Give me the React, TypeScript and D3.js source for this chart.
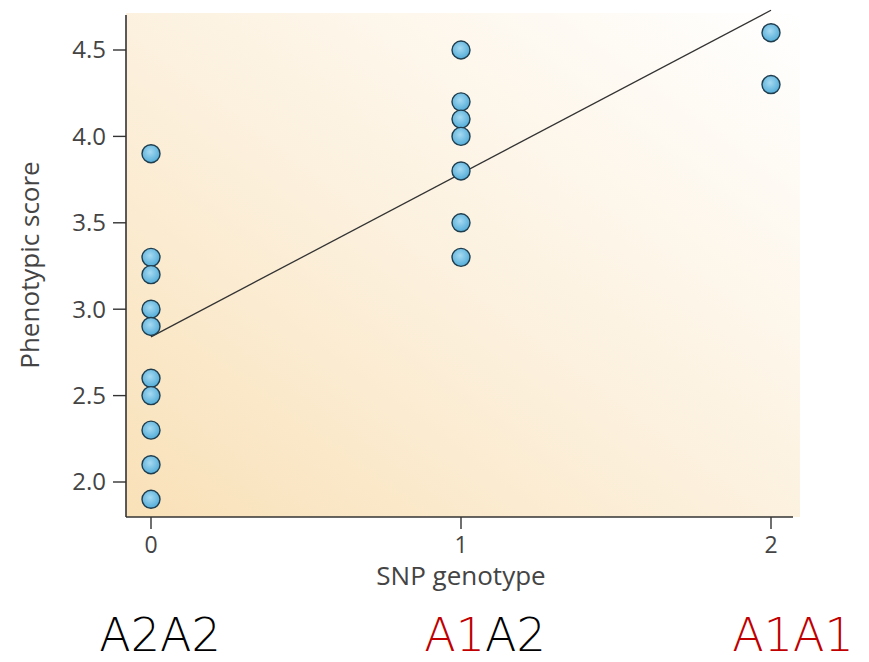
import { useRef, useEffect } from 'react';
import * as d3 from 'd3';

const genotypes = [0, 1, 2];
const genotypeLabels = ['A2A2', 'A1A2', 'A1A1'];
const scoresAA = [3.9, 3.3, 3.2, 3.0, 2.9, 2.6, 2.5, 2.3, 2.1, 1.9];
const scoresAB = [4.5, 4.2, 4.1, 4.0, 3.8, 3.5, 3.3];
const scoresBB = [4.6, 4.3];
const yTicks = [2.0, 2.5, 3.0, 3.5, 4.0, 4.5];
const fitLine = [
  { x: 0, y: 2.84 },
  { x: 2, y: 4.73 },
];

export default function App() {
  const svgRef = useRef<SVGSVGElement>(null);

  useEffect(() => {
    document.body.style.margin = '0';
    if (!svgRef.current) return;
    const svg = d3.select(svgRef.current);
    svg.selectAll('*').remove();

    const width = 869;
    const height = 662;
    const left = 126, right = 793, top = 15, bottom = 517;

    const x = d3.scaleLinear().domain([0, 2]).range([151, 771]);
    const y = d3.scaleLinear().domain([2.0, 4.5]).range([482, 50]);

    const defs = svg.append('defs');
    const bg = defs.append('linearGradient')
      .attr('id', 'bg-grad')
      .attr('x1', '0%').attr('y1', '100%')
      .attr('x2', '100%').attr('y2', '0%');
    bg.append('stop').attr('offset', '0%').attr('stop-color', '#f9e1b8');
    bg.append('stop').attr('offset', '45%').attr('stop-color', '#fcf0dc');
    bg.append('stop').attr('offset', '100%').attr('stop-color', '#ffffff');

    const dot = defs.append('radialGradient')
      .attr('id', 'dot-grad')
      .attr('cx', '45%').attr('cy', '40%').attr('r', '60%');
    dot.append('stop').attr('offset', '0%').attr('stop-color', '#a6daf2');
    dot.append('stop').attr('offset', '100%').attr('stop-color', '#52acd8');

    svg.append('rect')
      .attr('x', left).attr('y', top - 2)
      .attr('width', 800 - left).attr('height', bottom - top + 2)
      .attr('fill', 'url(#bg-grad)');

    // regression line
    const line = d3.line<{ x: number; y: number }>()
      .x((d) => x(d.x))
      .y((d) => y(d.y));
    svg.append('path')
      .datum(fitLine)
      .attr('d', line)
      .attr('fill', 'none')
      .attr('stroke', '#333')
      .attr('stroke-width', 1.3);

    const points = [
      ...scoresAA.map((v) => ({ g: genotypes[0], v })),
      ...scoresAB.map((v) => ({ g: genotypes[1], v })),
      ...scoresBB.map((v) => ({ g: genotypes[2], v })),
    ];
    svg.append('g')
      .selectAll('circle')
      .data(points)
      .join('circle')
      .attr('cx', (d) => x(d.g))
      .attr('cy', (d) => y(d.v))
      .attr('r', 9)
      .attr('fill', 'url(#dot-grad)')
      .attr('stroke', '#1f3d4d')
      .attr('stroke-width', 1.4);

    // axes
    const axisColor = '#333';
    svg.append('line')
      .attr('x1', left).attr('x2', left)
      .attr('y1', top).attr('y2', bottom)
      .attr('stroke', axisColor).attr('stroke-width', 1.6);
    svg.append('line')
      .attr('x1', left).attr('x2', right)
      .attr('y1', bottom).attr('y2', bottom)
      .attr('stroke', axisColor).attr('stroke-width', 1.6);

    const font = '"Open Sans", sans-serif';
    const yAxis = svg.append('g');
    yTicks.forEach((t) => {
      yAxis.append('line')
        .attr('x1', left - 13).attr('x2', left)
        .attr('y1', y(t)).attr('y2', y(t))
        .attr('stroke', axisColor).attr('stroke-width', 1.4);
      yAxis.append('text')
        .attr('x', left - 20).attr('y', y(t))
        .attr('dy', '0.35em')
        .attr('text-anchor', 'end')
        .attr('fill', '#444')
        .style('font-size', '24px').style('font-family', font)
        .text(t.toFixed(1));
    });

    const xAxis = svg.append('g');
    genotypes.forEach((g) => {
      xAxis.append('line')
        .attr('x1', x(g)).attr('x2', x(g))
        .attr('y1', bottom).attr('y2', bottom + 12)
        .attr('stroke', axisColor).attr('stroke-width', 1.4);
      xAxis.append('text')
        .attr('x', x(g)).attr('y', 553)
        .attr('text-anchor', 'middle')
        .attr('fill', '#444')
        .style('font-size', '23px').style('font-family', font)
        .text(String(g));
    });

    svg.append('text')
      .attr('x', x(1)).attr('y', 585)
      .attr('text-anchor', 'middle')
      .attr('fill', '#444')
      .style('font-size', '26px').style('font-family', font)
      .text('SNP genotype');

    svg.append('text')
      .attr('transform', `translate(39, 265) rotate(-90)`)
      .attr('text-anchor', 'middle')
      .attr('fill', '#444')
      .style('font-size', '26px').style('font-family', font)
      .text('Phenotypic score');

    // genotype labels below
    const labelX = [160, 485, 793];
    genotypeLabels.forEach((lab, i) => {
      const t = svg.append('text')
        .attr('x', labelX[i]).attr('y', 651)
        .attr('text-anchor', 'middle')
        .style('font-size', '46px')
        .style('font-family', '"DejaVu Sans", sans-serif')
        .style('font-weight', '200');
      const parts = lab.match(/A\d/g) || [];
      parts.forEach((p) => {
        t.append('tspan')
          .attr('fill', p === 'A1' ? '#c00000' : '#000')
          .text(p);
      });
    });

    svg.attr('viewBox', `0 0 ${width} ${height}`);
  }, []);

  return <svg ref={svgRef} width={869} height={662} style={{ display: 'block' }} />;
}
